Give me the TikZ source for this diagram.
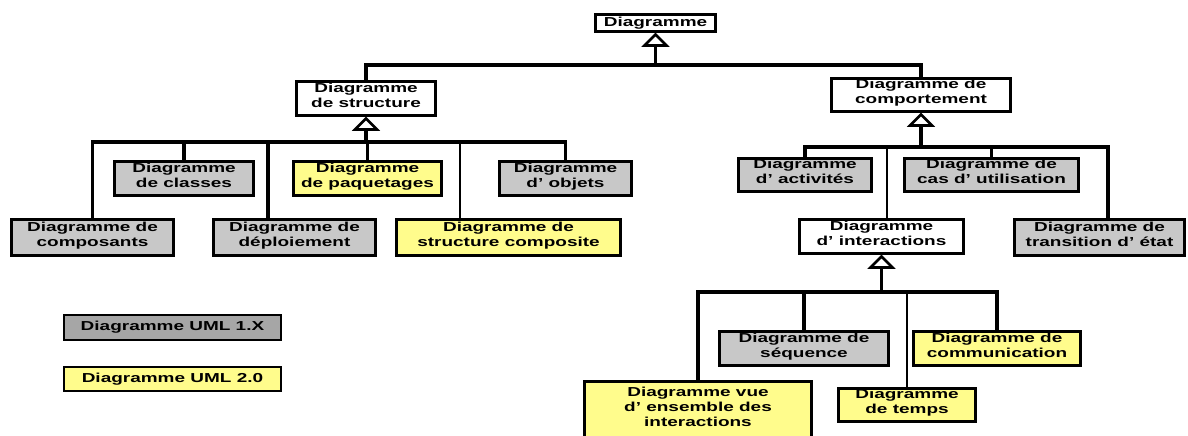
\documentclass[tikz,border=0pt]{standalone}
\usepackage{fontspec}
\setmainfont{Liberation Sans}[FakeStretch=1.46]
\usetikzlibrary{arrows.meta}
\definecolor{boxgray}{RGB}{200,200,200}
\definecolor{leggray}{RGB}{166,166,166}
\definecolor{boxyellow}{RGB}{255,252,140}
\newcommand\mybox[8][3pt]{%
  \node[box, line width=#1, fill=#7, minimum width={#4-#2-3}, minimum height={#5-#3-3}]
    (#6) at ({(#2+#4)/2},{(#3+#5)/2}) {#8};}
\newcommand\gentri[1]{%
  \draw[tri] (#1) ++(0,1.5) -- ++(-11,11) -- ++(22,0) -- cycle;}
\begin{document}
\begin{tikzpicture}[x=1pt,y=-1pt,
  box/.style={draw=black, inner sep=0pt, align=center, text depth=7pt,
    font=\fontsize{13}{15}\selectfont\bfseries},
  conn/.style={line width=3.2pt},
  thinl/.style={line width=1.8pt},
  gen/.style={line width=3.2pt, shorten >=12pt},
  tri/.style={line width=2.6pt, fill=white, line join=miter}]
\fill[white] (0,0) rectangle (1188,436);
\useasboundingbox (0,0) rectangle (1188,436);
% boxes
\node[box, line width=3pt, fill=white, minimum width=120, minimum height=17, text depth=3pt]
  (top) at (655.5,23) {Diagramme};
\mybox{295}{80}{437}{117}{struct}{white}{Diagramme\\de structure}
\mybox{830}{77}{1012}{113}{comport}{white}{Diagramme de\\comportement}
\mybox{113}{160}{255}{197}{classes}{boxgray}{Diagramme\\de classes}
\mybox{292}{160}{443}{197}{paq}{boxyellow}{Diagramme\\de paquetages}
\mybox{498}{160}{633}{197}{objets}{boxgray}{Diagramme\\d' objets}
\mybox{10}{218}{175}{257}{compo}{boxgray}{Diagramme de\\composants}
\mybox{212}{218}{377}{257}{deploi}{boxgray}{Diagramme de\\déploiement}
\mybox{395}{218}{622}{257}{compos}{boxyellow}{Diagramme de\\structure composite}
\mybox{737}{157}{873}{193}{activ}{boxgray}{Diagramme\\d' activités}
\mybox{903}{157}{1080}{193}{cas}{boxgray}{Diagramme de\\cas d' utilisation}
\mybox{798}{218}{965}{255}{inter}{white}{Diagramme\\d' interactions}
\mybox{1013}{218}{1186}{257}{trans}{boxgray}{Diagramme de\\transition d' état}
\mybox{718}{330}{890}{367}{seq}{boxgray}{Diagramme de\\séquence}
\mybox{912}{330}{1082}{367}{comm}{boxyellow}{Diagramme de\\communication}
\mybox{837}{387}{977}{423}{temps}{boxyellow}{Diagramme\\de temps}
\mybox{583}{380}{813}{440}{vue}{boxyellow}{Diagramme vue\\d' ensemble des\\interactions}
\node[box, line width=2pt, fill=leggray, minimum width=217, minimum height=25, text depth=3pt]
  (leg1) at (172.5,327.5) {Diagramme UML 1.X};
\node[box, line width=2pt, fill=boxyellow, minimum width=217, minimum height=24, text depth=3pt]
  (leg2) at (172.5,379) {Diagramme UML 2.0};
% level coordinates
\coordinate (ym) at (0,65);
\coordinate (ys) at (0,142);
\coordinate (yb) at (0,147);
\coordinate (yi) at (0,292);
\coordinate (dx) at (268,0);
\coordinate (cx) at (460,0);
\coordinate (ix) at (887,0);
\coordinate (tx) at (1108,0);
% top level
\draw[gen] (top.south |- ym) -- (top.south);
\gentri{top.south}
\draw[conn] (struct.north) -- (struct.north |- ym) -- (comport.north |- ym) -- (comport.north);
% structure
\draw[gen] (struct.south |- ys) -- (struct.south);
\gentri{struct.south}
\draw[conn] (compo.north) -- (compo.north |- ys) -- (objets.north |- ys) -- (objets.north);
\draw[conn] (classes.north) -- (classes.north |- ys);
\draw[conn] (paq.north) -- (paq.north |- ys);
\draw[conn] (dx |- deploi.north) -- (dx |- ys);
\draw[thinl] (cx |- compos.north) -- (cx |- ys);
% behaviour
\draw[gen] (comport.south |- yb) -- (comport.south);
\gentri{comport.south}
\draw[conn] (activ.north) -- (activ.north |- yb) -- (tx |- yb) -- (tx |- trans.north);
\draw[conn] (cas.north) -- (cas.north |- yb);
\draw[thinl] (ix |- inter.north) -- (ix |- yb);
% interactions
\draw[gen] (inter.south |- yi) -- (inter.south);
\gentri{inter.south}
\draw[conn] (vue.north) -- (vue.north |- yi) -- (comm.north |- yi) -- (comm.north);
\draw[conn] (seq.north) -- (seq.north |- yi);
\draw[thinl] (temps.north) -- (temps.north |- yi);
\end{tikzpicture}
\end{document}
